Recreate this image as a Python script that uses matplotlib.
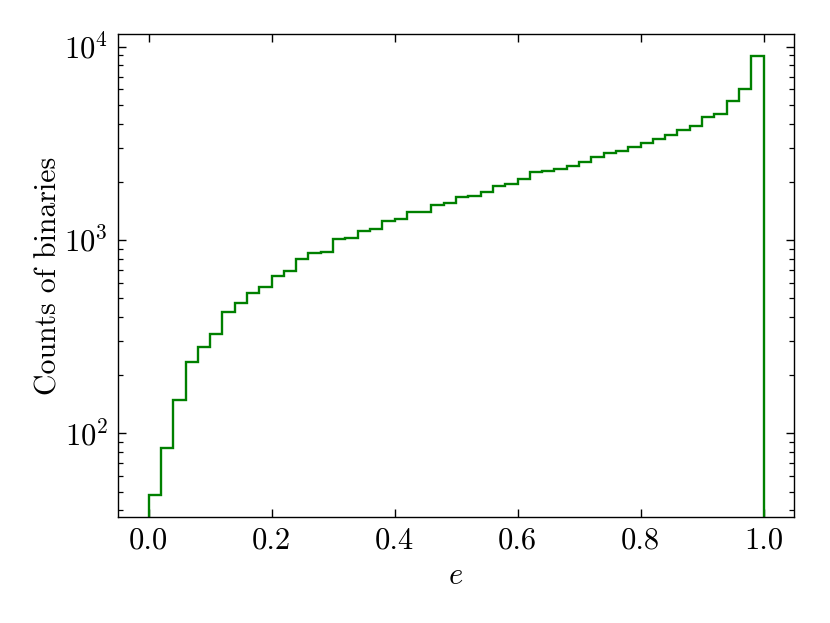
import numpy as np
import matplotlib
matplotlib.use("Agg")
import matplotlib.pyplot as plt
from matplotlib.ticker import LogLocator, NullLocator

plt.rcParams['font.family'] = ['cmr10', 'DejaVu Serif']
plt.rcParams['mathtext.fontset'] = 'cm'
plt.rcParams['axes.formatter.use_mathtext'] = True
plt.rcParams['axes.unicode_minus'] = False

# histogram of eccentricity, 50 bins over [0, 1]
bin_edges = np.linspace(0.0, 1.0, 51)
counts = [48, 84, 149, 234, 281, 326, 424, 470, 533, 570,
          653, 693, 800, 853, 870, 1016, 1028, 1117, 1136, 1254,
          1284, 1391, 1402, 1514, 1550, 1670, 1691, 1774, 1905, 1958,
          2078, 2250, 2286, 2333, 2417, 2528, 2680, 2830, 2883, 3008,
          3155, 3309, 3470, 3726, 3908, 4335, 4508, 5206, 6036, 8915]
x_label = "$e$"
y_label = "Counts of binaries"
x_ticks = [0.0, 0.2, 0.4, 0.6, 0.8, 1.0]

fig = plt.figure(figsize=(8.3, 6.23), dpi=100)
ax = fig.add_axes([0.142, 0.170, 0.815, 0.775])

centers = 0.5 * (bin_edges[:-1] + bin_edges[1:])
ax.hist(centers, bins=bin_edges, weights=counts, histtype='step',
        color='green', linewidth=1.7, log=True)

ax.set_xlim(-0.05, 1.05)
lo, hi = np.log10(min(counts)), np.log10(max(counts))
m = 0.05 * (hi - lo)
ax.set_ylim(10 ** (lo - m), 10 ** (hi + m))

ax.set_xticks(x_ticks)
ax.set_xticklabels([f"{t:.1f}" for t in x_ticks])
ax.xaxis.set_minor_locator(NullLocator())
ax.yaxis.set_major_locator(LogLocator(base=10))
ax.yaxis.set_minor_locator(LogLocator(base=10, subs=np.arange(2, 10)))

ax.tick_params(which='both', direction='in', top=True, right=True,
               labelsize=22, pad=7)
ax.tick_params(which='major', length=6, width=1.0)
ax.tick_params(which='minor', length=3.5, width=0.9)

ax.set_xlabel(x_label, fontsize=22, labelpad=6)
ax.set_ylabel(y_label, fontsize=21.5, labelpad=1)

for s in ax.spines.values():
    s.set_linewidth(1.0)

fig.savefig("out.png", dpi=100)
